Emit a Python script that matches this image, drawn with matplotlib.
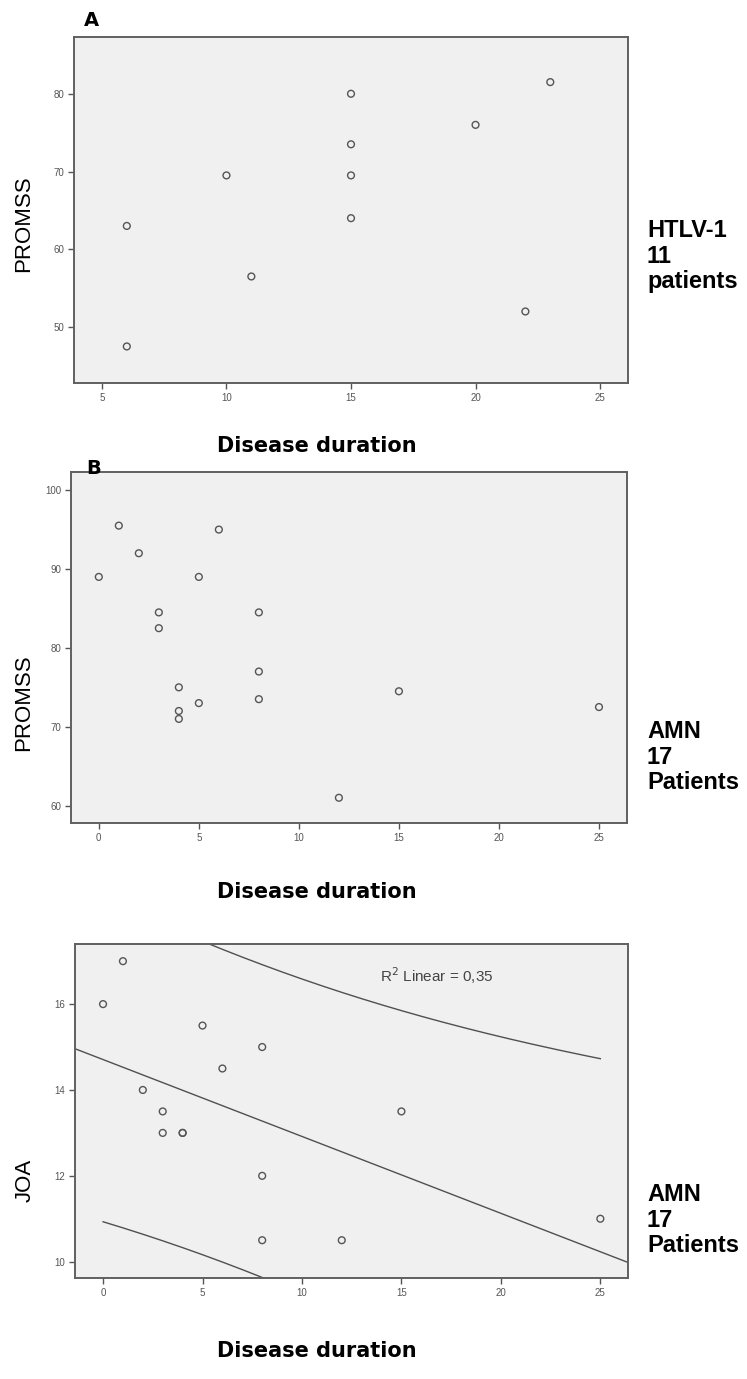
import numpy as np
import matplotlib
matplotlib.use("Agg")
import matplotlib.pyplot as plt

# panel A: HTLV-1 (11 patients)
dur_a = [6, 6, 10, 11, 15, 15, 15, 15, 20, 22, 23]
promss_a = [63, 47.5, 69.5, 56.5, 80, 73.5, 69.5, 64, 76, 52, 81.5]

# panel B: AMN (17 patients)
dur_b = [0, 1, 2, 3, 3, 4, 4, 4, 5, 5, 6, 8, 8, 8, 12, 15, 25]
promss_b = [89, 95.5, 92, 84.5, 82.5, 75, 72, 71, 89, 73, 95, 84.5, 77, 73.5, 61, 74.5, 72.5]

# panel C: AMN JOA (two points overlap at 4, 13)
dur_c = [0, 1, 2, 3, 3, 4, 4, 5, 6, 8, 8, 8, 12, 15, 25]
joa_c = [16, 17, 14, 13.5, 13, 13, 13, 15.5, 14.5, 15, 12, 10.5, 10.5, 13.5, 11]

W, H = 747, 1379
fig = plt.figure(figsize=(W / 100, H / 100), dpi=100)

def box(l, t, r, b):
    return [l / W, 1 - b / H, (r - l) / W, (b - t) / H]

def pt(x, y):
    return x / W, 1 - y / H

bg = "#f0f0f0"
edge = "#606060"

def style(ax, xt, yt, xlim, ylim):
    ax.set_facecolor(bg)
    ax.set_xlim(xlim)
    ax.set_ylim(ylim)
    ax.set_xticks(xt)
    ax.set_yticks(yt)
    for s in ax.spines.values():
        s.set_color(edge)
        s.set_linewidth(1.4)
    ax.tick_params(direction="out", length=4, width=1, color="#555555",
                   labelsize=7, labelcolor="#555555", pad=3)
    for lab in ax.get_xticklabels() + ax.get_yticklabels():
        lab.set_family("Liberation Sans")

def dots(ax, x, y):
    ax.scatter(x, y, s=24, facecolors="none", edgecolors="#555555", linewidths=1.0, zorder=3)

ax_a = fig.add_axes(box(74, 37, 628, 383))
style(ax_a, [5, 10, 15, 20, 25], [50, 60, 70, 80], (3.88, 26.12), (42.8, 87.3))
dots(ax_a, dur_a, promss_a)

ax_b = fig.add_axes(box(71, 472, 627, 823))
style(ax_b, [0, 5, 10, 15, 20, 25], [60, 70, 80, 90, 100], (-1.39, 26.4), (57.8, 102.3))
dots(ax_b, dur_b, promss_b)

ax_c = fig.add_axes(box(75, 944, 628, 1278))
xlim_c = (-1.41, 26.39)
style(ax_c, [0, 5, 10, 15, 20, 25], [10, 12, 14, 16], xlim_c, (9.62, 17.4))
dots(ax_c, dur_c, joa_c)

# linear fit with 95% individual prediction interval
x = np.array(dur_c, dtype=float)
y = np.array(joa_c, dtype=float)
n = len(x)
slope, icpt = np.polyfit(x, y, 1)
resid = y - (icpt + slope * x)
s = np.sqrt(np.sum(resid ** 2) / (n - 2))
sxx = np.sum((x - x.mean()) ** 2)
t_crit = 2.160  # t(0.975, 13)
xl = np.linspace(xlim_c[0], xlim_c[1], 100)
ax_c.plot(xl, icpt + slope * xl, color="#505050", lw=1.0, zorder=2)
xp = np.linspace(x.min(), x.max(), 200)
half = t_crit * s * np.sqrt(1 + 1 / n + (xp - x.mean()) ** 2 / sxx)
ax_c.plot(xp, icpt + slope * xp + half, color="#505050", lw=1.0, zorder=2)
ax_c.plot(xp, icpt + slope * xp - half, color="#505050", lw=1.0, zorder=2)
ax_c.text(0.655, 0.905, r"R$^2$ Linear = 0,35", transform=ax_c.transAxes,
          ha="center", va="center", fontsize=11, color="#444444", family="Liberation Sans")

bold = dict(family="DejaVu Sans", weight="heavy", color="black")

fig.text(*pt(84, 11), "A", fontsize=14, va="top", ha="left", **bold)
fig.text(*pt(86, 459), "B", fontsize=14, va="top", ha="left", **bold)

for yy in [446, 892, 1351]:
    fig.text(*pt(217, yy), "Disease duration", fontsize=15, va="center", ha="left", **bold)

ylab = dict(family="Liberation Sans", fontsize=16, rotation=90, ha="center", va="center", color="black")
fig.text(*pt(24, 224), "PROMSS", **ylab)
fig.text(*pt(24, 703), "PROMSS", **ylab)
fig.text(*pt(25, 1180), "JOA", **ylab)

side = dict(family="Liberation Sans", weight="bold", color="black",
            fontsize=17, va="top", ha="left", linespacing=1.15)
fig.text(*pt(647, 219), "HTLV-1\n11\npatients", **side)
fig.text(*pt(647, 720), "AMN\n17\nPatients", **side)
fig.text(*pt(647, 1183), "AMN\n17\nPatients", **side)

fig.savefig("out.png", dpi=100)
